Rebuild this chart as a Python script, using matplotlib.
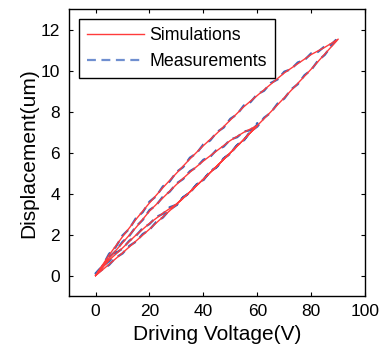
import matplotlib
matplotlib.use("Agg")
import matplotlib.pyplot as plt
import numpy as np

plt.rcParams['font.family'] = ['Liberation Sans', 'DejaVu Sans']

# ---- Simulation branches (V, um) ----
sim_up1_v = [0, 5, 10, 15, 20, 25, 30, 35, 40, 45, 50, 55, 60]
sim_up1_d = [0, 0.55, 1.11, 1.69, 2.27, 2.87, 3.47, 4.09, 4.71, 5.35, 6.0, 6.65, 7.33]

sim_dn1_v = [60, 55, 50, 45, 40, 35, 30, 25, 20, 15, 10, 6, 3, 0]
sim_dn1_d = [7.33, 7.0, 6.6, 6.1, 5.6, 5.05, 4.45, 3.8, 3.15, 2.35, 1.6, 1.0, 0.55, 0]

sim_up2_v = [0, 5, 10, 15, 20, 25, 30, 35, 40, 45, 50, 55, 60, 65, 70, 75, 80, 85, 90]
sim_up2_d = [0, 0.75, 1.35, 1.98, 2.55, 3.05, 3.5, 4.09, 4.71, 5.35, 6.0, 6.65, 7.33,
             8.0, 8.69, 9.39, 10.09, 10.82, 11.55]

sim_dn2_v = [90, 85, 80, 75, 70, 65, 60, 55, 50, 45, 40, 35, 30, 25, 20, 15, 10, 5, 2, 0]
sim_dn2_d = [11.55, 11.15, 10.8, 10.35, 9.9, 9.35, 8.8, 8.25, 7.6, 6.95, 6.35, 5.7, 5.0,
             4.3, 3.55, 2.75, 1.9, 1.0, 0.4, 0]

# ---- Measurement branches (V, um) ----
meas_up1_v = [0, 2.5, 5, 7.5, 10, 12.5, 15, 17.5, 20, 22.5, 25, 27.5, 30, 32.5, 35, 37.5,
              40, 42.5, 45, 47.5, 50, 52.5, 55, 57.5, 60]
meas_up1_d = [0.05, 0.30, 0.52, 0.88, 1.08, 1.45, 1.66, 2.03, 2.24, 2.62, 2.84, 3.22, 3.44,
              3.82, 4.06, 4.45, 4.68, 5.08, 5.31, 5.72, 5.96, 6.37, 6.61, 7.05, 7.38]

meas_dn1_v = [60, 57.5, 55, 52.5, 50, 47.5, 45, 42.5, 40, 37.5, 35, 32.5, 30, 27.5, 25,
              22.5, 20, 17.5, 15, 12.5, 10, 7.5, 5, 2.5, 0]
meas_dn1_d = [7.45, 7.10, 7.04, 6.76, 6.65, 6.30, 6.16, 5.80, 5.66, 5.30, 5.10, 4.72, 4.50,
              4.10, 3.86, 3.44, 3.20, 2.72, 2.40, 1.94, 1.65, 1.20, 0.90, 0.42, 0.10]

meas_up2_v = [0, 2.5, 5, 7.5, 10, 12.5, 15, 17.5, 20, 22.5, 25, 27.5, 30, 32.5, 35, 37.5,
              40, 42.5, 45, 47.5, 50, 52.5, 55, 57.5, 60, 62.5, 65, 67.5, 70, 72.5, 75,
              77.5, 80, 82.5, 85, 87.5, 90]
meas_up2_d = [0.1, 0.45, 0.70, 1.10, 1.32, 1.70, 1.95, 2.32, 2.52, 2.86, 3.02, 3.34, 3.46,
              3.83, 4.05, 4.45, 4.68, 5.08, 5.31, 5.72, 5.97, 6.37, 6.61, 7.04, 7.28, 7.71,
              7.96, 8.40, 8.65, 9.09, 9.35, 9.79, 10.05, 10.50, 10.78, 11.23, 11.6]

meas_dn2_v = [90, 87.5, 85, 82.5, 80, 77.5, 75, 72.5, 70, 67.5, 65, 62.5, 60, 57.5, 55,
              52.5, 50, 47.5, 45, 42.5, 40, 37.5, 35, 32.5, 30, 27.5, 25, 22.5, 20, 17.5,
              15, 12.5, 10, 7.5, 5, 2.5, 0]
meas_dn2_d = [11.62, 11.30, 11.20, 10.93, 10.86, 10.53, 10.41, 10.08, 9.96, 9.58, 9.41,
              9.03, 8.86, 8.48, 8.31, 7.88, 7.66, 7.23, 7.01, 6.60, 6.41, 5.98, 5.76, 5.30,
              5.06, 4.60, 4.36, 3.88, 3.61, 3.10, 2.81, 2.28, 1.96, 1.40, 1.06, 0.45, 0.1]

x_ticks = [0, 20, 40, 60, 80, 100]
y_ticks = [0, 2, 4, 6, 8, 10, 12]

sim_v = sim_up1_v + sim_dn1_v + sim_up2_v + sim_dn2_v
sim_d = sim_up1_d + sim_dn1_d + sim_up2_d + sim_dn2_d
meas_v = meas_up1_v + meas_dn1_v + meas_up2_v + meas_dn2_v
meas_d = meas_up1_d + meas_dn1_d + meas_up2_d + meas_dn2_d

fig = plt.figure(figsize=(3.81, 3.5), dpi=100)
ax = fig.add_axes([0.180, 0.154, 0.7785, 0.819])

l_meas, = ax.plot(meas_v, meas_d, color='#3d66b8', lw=1.6, ls=(0, (4, 2.5)),
                  label='Measurements', zorder=2)
l_sim, = ax.plot(sim_v, sim_d, color='#ff3b3b', lw=1.0, label='Simulations', zorder=3)

ax.set_xlim(-10, 100)
ax.set_ylim(-1, 13)
ax.set_xticks(x_ticks)
ax.set_yticks(y_ticks)
ax.tick_params(direction='in', top=True, right=True, length=3, width=0.8,
               labelsize=12.5, pad=6, colors='black')
for s in ax.spines.values():
    s.set_linewidth(1.0)
    s.set_color('black')

ax.set_xlabel('Driving Voltage(V)', fontsize=15, labelpad=4)
ax.set_ylabel('Displacement(um)', fontsize=15, labelpad=2)

leg = ax.legend(handles=[l_sim, l_meas], loc='upper left',
                bbox_to_anchor=(0.035, 0.967), borderaxespad=0,
                fontsize=12.8, handlelength=3.2, handletextpad=0.3,
                borderpad=0.45, labelspacing=0.5, fancybox=False,
                framealpha=1, edgecolor='black')
leg.get_frame().set_linewidth(1.0)
leg.get_lines()[1].set_color('#6f8fd0')

fig.savefig('out.png', dpi=100)
